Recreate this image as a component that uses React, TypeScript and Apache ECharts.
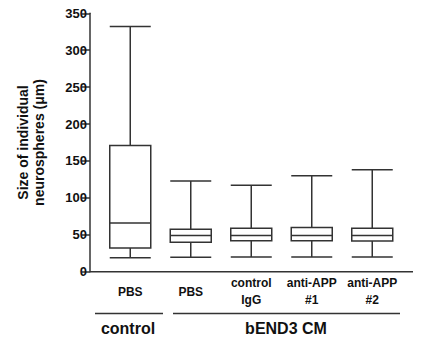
import React, { useEffect, useRef } from "react";
import * as echarts from "echarts";

const categories = ["PBS", "PBS", "control\nIgG", "anti-APP\n#1", "anti-APP\n#2"];
// [min, Q1, median, Q3, max]
const boxValues = [
  [19, 32, 66, 171, 332],
  [19.5, 40, 49, 57.5, 123],
  [20, 42, 49, 59, 117],
  [20, 42, 49, 60, 130],
  [20, 41.5, 49, 59, 138],
];
const yTicks = { min: 0, max: 350, interval: 50 };
const groupLabels = ["control", "bEND3 CM"];
const yTitle = "Size of individual\nneurospheres (\u03bcm)";

const FONT = "Liberation Sans, Arial, Helvetica, sans-serif";
const INK = "#333";

export default function App() {
  const ref = useRef<HTMLDivElement>(null);
  useEffect(() => {
    if (!ref.current) return;
    const chart = echarts.init(ref.current, null, { renderer: "svg" });
    chart.setOption({
      animation: false,
      backgroundColor: "#fff",
      grid: { left: 100, right: 20.5, top: 13.3, bottom: 66.3 },
      xAxis: {
        type: "category",
        data: categories,
        axisLine: { show: false },
        axisTick: { show: false },
        axisLabel: {
          interval: 0,
          margin: 20,
          verticalAlign: "middle",
          color: "#111",
          fontFamily: FONT,
          fontWeight: "bold",
          fontSize: 12,
          lineHeight: 17,
        },
        splitLine: { show: false },
      },
      yAxis: {
        type: "value",
        min: yTicks.min,
        max: yTicks.max,
        interval: yTicks.interval,
        offset: 10,
        name: yTitle,
        nameLocation: "middle",
        nameGap: 43,
        nameTextStyle: {
          color: "#111",
          fontFamily: FONT,
          fontWeight: "bold",
          fontSize: 14,
          lineHeight: 16,
        },
        axisLine: { show: true, lineStyle: { color: INK, width: 1.5 } },
        axisTick: { show: true, length: 8, lineStyle: { color: INK, width: 1.5 } },
        axisLabel: {
          margin: 3,
          color: "#111",
          fontFamily: FONT,
          fontWeight: "bold",
          fontSize: 13,
        },
        splitLine: { show: false },
      },
      series: [
        {
          type: "boxplot",
          data: boxValues,
          boxWidth: [41, 41],
          itemStyle: { color: "#fff", borderColor: INK, borderWidth: 1.5 },
        },
      ],
      graphic: [
        { type: "line", shape: { x1: 90, y1: 271.7, x2: 413, y2: 271.7 }, style: { stroke: INK, lineWidth: 1.5 } },
        { type: "line", shape: { x1: 95, y1: 313.5, x2: 163, y2: 313.5 }, style: { stroke: INK, lineWidth: 1.5 } },
        { type: "line", shape: { x1: 173, y1: 313.5, x2: 400, y2: 313.5 }, style: { stroke: INK, lineWidth: 1.5 } },
        {
          type: "text",
          x: 128,
          y: 328,
          style: { text: groupLabels[0], align: "center", verticalAlign: "middle", fill: "#111", font: `bold 16px ${FONT}` },
        },
        {
          type: "text",
          x: 286,
          y: 328,
          style: { text: groupLabels[1], align: "center", verticalAlign: "middle", fill: "#111", font: `bold 16px ${FONT}` },
        },
      ],
    });
    return () => chart.dispose();
  }, []);
  return <div ref={ref} style={{ width: 423, height: 338, position: "absolute", left: 0, top: 0 }} />;
}
